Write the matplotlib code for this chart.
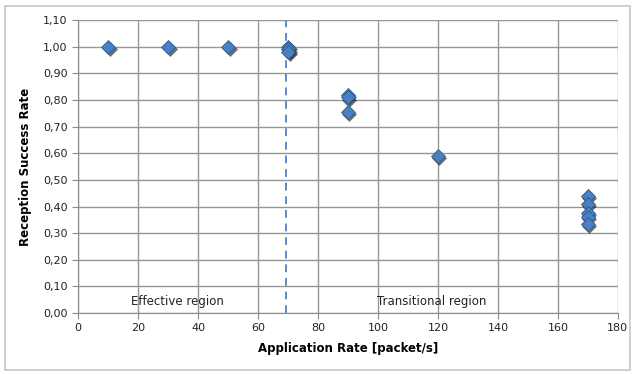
import numpy as np
import matplotlib.pyplot as plt
from matplotlib.patches import Rectangle

# data
app_rate = [10, 30, 50, 70, 70, 70, 90, 90, 90, 120, 170, 170, 170, 170, 170]
success = [1.00, 1.00, 1.00, 1.00, 0.99, 0.98, 0.82, 0.81, 0.755, 0.59,
           0.44, 0.41, 0.375, 0.36, 0.335]
boundary = 69.3
xticks = np.arange(0, 181, 20)
yticks = np.arange(0, 1.101, 0.1)

fig = plt.figure(figsize=(6.35, 3.74), dpi=100)
fig.patches.append(Rectangle((0.008, 0.01), 0.984, 0.975, transform=fig.transFigure,
                             fill=False, edgecolor='#c8c8c8', lw=1.2))
ax = fig.add_axes([0.123, 0.163, 0.850, 0.783])

ax.set_xlim(0, 180)
ax.set_ylim(0, 1.10)
ax.set_xticks(xticks)
ax.set_yticks(yticks)
ax.yaxis.set_major_formatter(plt.FuncFormatter(lambda v, p: ('%.2f' % v).replace('.', ',')))
ax.grid(True, color='#969696', lw=1.0)
ax.set_axisbelow(True)
for s in ['top', 'right']:
    ax.spines[s].set_visible(False)
ax.spines['left'].set_color('#8c8c8c')
ax.spines['bottom'].set_color('#8c8c8c')
ax.tick_params(colors='#8c8c8c', labelcolor='#222222', labelsize=8, length=4)

ax.axvline(boundary, color='#5b8cc8', ls=(0, (4, 3)), lw=1.4)

# shadow + markers
ax.scatter(np.array(app_rate) + 0.5, np.array(success) - 0.008, marker='D', s=58,
           color='#202020', alpha=0.65, zorder=3, linewidths=0)
ax.scatter(app_rate, success, marker='D', s=50, color='#4a7fc1',
           edgecolors='#2c5a8f', linewidths=0.6, zorder=4)

ax.text(33, 0.045, 'Effective region', ha='center', va='center', fontsize=8.5, color='#222222')
ax.text(118, 0.045, 'Transitional region', ha='center', va='center', fontsize=8.5, color='#222222')

ax.set_xlabel('Application Rate [packet/s]', fontsize=8.5, fontweight='bold', labelpad=6)
ax.set_ylabel('Reception Success Rate', fontsize=8.5, fontweight='bold', labelpad=8)

fig.savefig('out.png', dpi=100)
